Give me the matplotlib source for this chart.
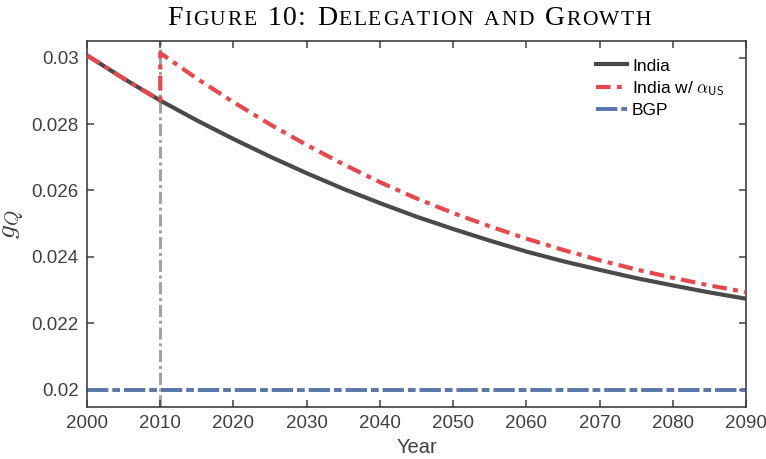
import numpy as np
import matplotlib
matplotlib.use("Agg")
import matplotlib.pyplot as plt

plt.rcParams["font.family"] = ["Liberation Sans", "DejaVu Sans"]
plt.rcParams["mathtext.fontset"] = "cm"

# data
years = [2000, 2005, 2010, 2015, 2020, 2025, 2030, 2035, 2040, 2045,
         2050, 2055, 2060, 2065, 2070, 2075, 2080, 2085, 2090]
india = [0.03007, 0.02937, 0.02871, 0.02811, 0.02755, 0.02702, 0.02652,
         0.02605, 0.02562, 0.02521, 0.02484, 0.02449, 0.02416, 0.02387,
         0.02361, 0.02336, 0.02314, 0.02293, 0.02274]
years_us = [2000, 2005, 2010, 2010, 2015, 2020, 2025, 2030, 2035, 2040, 2045,
            2050, 2055, 2060, 2065, 2070, 2075, 2080, 2085, 2090]
india_us = [0.03007, 0.02937, 0.02871, 0.03014, 0.02937, 0.02866, 0.02799,
            0.02737, 0.02679, 0.02625, 0.02576, 0.02532, 0.02492, 0.02455,
            0.02421, 0.02390, 0.02362, 0.02337, 0.02314, 0.02294]
bgp_years = [2000, 2090]
bgp = [0.02, 0.02]
reform_year = 2010

c_dark = "#4a4a4a"
c_red = "#e8474c"
c_blue = "#5876a8"
c_grey = "#a3a3a3"
c_text = "#404040"

fig = plt.figure(figsize=(7.66, 4.59), dpi=100)
ax = fig.add_axes([0.1136, 0.114, 0.8605, 0.7973])

ax.axvline(reform_year, color=c_grey, lw=2.2, ls=(0, (4, 1.2, 1, 1.2)), zorder=1)
ax.plot(years, india, color=c_dark, lw=3.0, label="India", zorder=2)
ax.plot(years_us, india_us, color=c_red, lw=3.0, ls=(0, (3.5, 1.5, 1.2, 1.5)),
        label=r"India w/ $\alpha_{\mathsf{US}}$", zorder=3)
ax.plot(bgp_years, bgp, color=c_blue, lw=2.8, ls=(0, (5.5, 1, 2, 1)),
        label="BGP", zorder=2)

ax.set_xlim(2000, 2090)
ax.set_ylim(0.01949, 0.03051)
ax.set_xticks(range(2000, 2091, 10))
ax.set_yticks([0.02, 0.022, 0.024, 0.026, 0.028, 0.03])
ax.set_yticklabels(["0.02", "0.022", "0.024", "0.026", "0.028", "0.03"])

for s in ax.spines.values():
    s.set_color(c_text)
    s.set_linewidth(1.2)
ax.tick_params(direction="in", length=5, width=1.1, color=c_text,
               labelcolor=c_text, labelsize=13.5, top=True, right=True, pad=6)

ax.set_xlabel("Year", fontsize=14.5, color=c_text, labelpad=4)
ax.set_ylabel(r"$g_Q$", fontsize=20, color=c_text, labelpad=3)

leg = ax.legend(loc="upper right", frameon=False, fontsize=12.5, handlelength=1.75,
                handletextpad=0.3, labelspacing=0.3, borderaxespad=0.3,
                bbox_to_anchor=(0.985, 0.985))
for t in leg.get_texts():
    t.set_color("black")

# title in small caps, drawn letter by letter with a little tracking
title = "Figure 10: Delegation and Growth"
big, small = 20, 15.5
track = 1.6
renderer = fig.canvas.get_renderer()
objs = []
total = 0.0
for ch in title:
    sz = small if ch.islower() else big
    t = fig.text(0, 0, ch.upper(), fontsize=sz, family="Liberation Serif",
                 color="black", va="baseline", ha="left")
    if ch == " ":
        w = 0.28 * sz * 100 / 72
    else:
        w = t.get_window_extent(renderer).width
    objs.append((t, w))
    total += w + track
total -= track
x = 409 - total / 2
for t, w in objs:
    t.set_position((x / 766, 1 - 25 / 459))
    x += w + track

fig.savefig("out.png", dpi=100)
